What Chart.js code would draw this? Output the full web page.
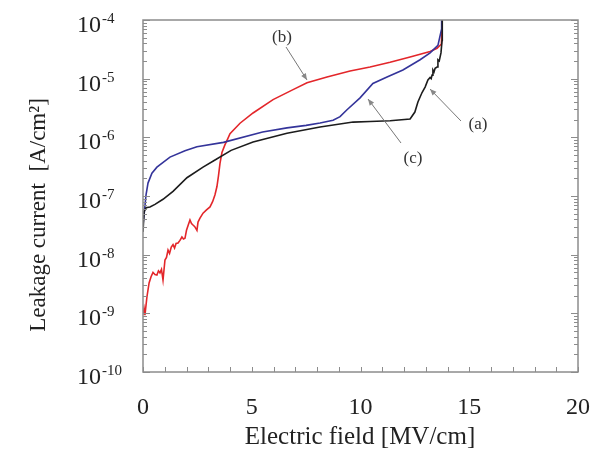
<!DOCTYPE html>
<html><head><meta charset="utf-8">
<script src="https://cdn.jsdelivr.net/npm/chart.js@4/dist/chart.umd.min.js"></script>
<style>html,body{margin:0;padding:0;background:#fff}#wrap{width:597px;height:450px}</style>
</head><body><div id="wrap"><canvas id="c" width="597" height="450"></canvas></div>
<script>
// ---- data ----
const xTicks = [0, 5, 10, 15, 20];
const yTickExps = [-4, -5, -6, -7, -8, -9, -10];

// (a) black
const fieldA = [0, 0.05, 0.14, 0.32, 0.55, 0.92, 1.38, 2.02, 2.76, 3.31, 4.05, 5.06, 6.62, 8.14, 9.66, 10.44, 11.36, 12.28, 12.5, 12.64, 12.83, 12.97, 13.1, 13.2, 13.25, 13.29, 13.33, 13.38, 13.43, 13.52, 13.56, 13.62, 13.7, 13.75, 13.76];
const currentA = [2.45e-8, 5.4e-8, 6.3e-8, 6.5e-8, 7.2e-8, 8.8e-8, 1.2e-7, 2.05e-7, 3.1e-7, 4.1e-7, 6.0e-7, 8.3e-7, 1.17e-6, 1.5e-6, 1.82e-6, 1.86e-6, 1.92e-6, 2.05e-6, 2.7e-6, 4.0e-6, 5.8e-6, 7.2e-6, 9.5e-6, 1.05e-5, 1.0e-5, 1.15e-5, 1.4e-5, 1.3e-5, 1.5e-5, 1.58e-5, 2.1e-5, 2.0e-5, 2.75e-5, 4.5e-5, 1.2e-4];

// (b) red
const fieldB = [0, 0.05, 0.09, 0.18, 0.28, 0.37, 0.46, 0.55, 0.64, 0.71, 0.78, 0.85, 0.92, 1.01, 1.08, 1.15, 1.22, 1.3, 1.38, 1.45, 1.52, 1.61, 1.7, 1.79, 1.86, 1.93, 2.0, 2.08, 2.16, 2.23, 2.3, 2.38, 2.48, 2.53, 2.62, 2.76, 2.92, 3.08, 3.2, 3.31, 3.4, 3.47, 3.54, 3.63, 3.77, 3.9, 4.0, 4.46, 5.06, 5.98, 6.9, 7.54, 8.46, 9.52, 10.44, 11.36, 12.28, 13.2, 13.52, 13.72, 13.76];
const currentB = [9.5e-10, 1.2e-9, 9.3e-10, 1.9e-9, 3.3e-9, 4.2e-9, 5.0e-9, 4.6e-9, 4.5e-9, 5.3e-9, 4.9e-9, 5.6e-9, 3.7e-9, 8.1e-9, 9.0e-9, 1.2e-8, 1.05e-8, 1.35e-8, 1.48e-8, 1.3e-8, 1.55e-8, 1.58e-8, 1.75e-8, 2.0e-8, 1.85e-8, 1.9e-8, 2.6e-8, 3.2e-8, 3.9e-8, 3.4e-8, 3.2e-8, 3.0e-8, 2.6e-8, 3.6e-8, 4.2e-8, 5.1e-8, 5.8e-8, 6.5e-8, 8.0e-8, 1.05e-7, 1.45e-7, 2.2e-7, 3.6e-7, 5.5e-7, 7.5e-7, 9.5e-7, 1.15e-6, 1.74e-6, 2.6e-6, 4.4e-6, 6.5e-6, 8.5e-6, 1.07e-5, 1.35e-5, 1.58e-5, 1.9e-5, 2.35e-5, 2.9e-5, 3.3e-5, 3.9e-5, 1.2e-4];

// (c) blue
const fieldC = [0, 0.05, 0.14, 0.23, 0.41, 0.64, 1.24, 1.93, 2.48, 3.7, 5.5, 6.62, 7.5, 8.14, 8.74, 9.06, 9.38, 9.98, 10.57, 11.22, 11.95, 12.74, 13.2, 13.56, 13.72, 13.73];
const currentC = [3.2e-8, 4.8e-8, 1.05e-7, 1.66e-7, 2.45e-7, 3.1e-7, 4.6e-7, 5.9e-7, 6.9e-7, 8.2e-7, 1.23e-6, 1.45e-6, 1.6e-6, 1.75e-6, 1.95e-6, 2.25e-6, 2.95e-6, 4.7e-6, 8.3e-6, 1.07e-5, 1.41e-5, 2.1e-5, 2.75e-5, 3.7e-5, 6.8e-5, 1.2e-4];

const toPts = (xs, ys) => xs.map((x, i) => ({x: x, y: ys[i]}));

const SERIF = '"Liberation Serif", "DejaVu Serif", serif';

const decor = {
  id: 'decor',
  afterDraw(chart) {
    const ctx = chart.ctx;
    const xs = chart.scales.x, ys = chart.scales.y;
    const a = chart.chartArea;
    ctx.save();
    // frame
    ctx.strokeStyle = '#8c8c8c';
    ctx.lineWidth = 1.5;
    ctx.strokeRect(a.left, a.top, a.right - a.left, a.bottom - a.top);
    // y ticks (log, both sides)
    ctx.lineWidth = 1;
    for (let e = -10; e <= -4; e++) {
      for (let m = 1; m <= 9; m++) {
        if (e === -4 && m > 1) break;
        const py = Math.round(ys.getPixelForValue(m * Math.pow(10, e))) + 0.5;
        const len = m === 1 ? 7 : 4;
        ctx.beginPath();
        ctx.moveTo(a.left, py); ctx.lineTo(a.left + len, py);
        ctx.moveTo(a.right, py); ctx.lineTo(a.right - len, py);
        ctx.stroke();
      }
    }
    // x ticks, every 1 unit, bottom
    for (let v = 0; v <= 20; v++) {
      const px = Math.round(xs.getPixelForValue(v)) + 0.5;
      ctx.beginPath();
      ctx.moveTo(px, a.bottom); ctx.lineTo(px, a.bottom - 5);
      ctx.stroke();
    }
    // x tick labels
    ctx.fillStyle = '#222';
    ctx.font = '24px ' + SERIF;
    ctx.textAlign = 'center';
    ctx.textBaseline = 'alphabetic';
    xTicks.forEach(v => ctx.fillText(String(v), xs.getPixelForValue(v), 414));
    // y tick labels 10^e
    yTickExps.forEach(e => {
      const py = ys.getPixelForValue(Math.pow(10, e));
      ctx.textAlign = 'left';
      ctx.font = '24px ' + SERIF;
      ctx.fillText('10', 77, py + 12);
      const w = ctx.measureText('10').width;
      ctx.font = '15px ' + SERIF;
      ctx.fillText(String(e), 77 + w + 1, py + 3);
    });
    // axis titles
    ctx.font = '25px ' + SERIF;
    ctx.textAlign = 'center';
    ctx.fillText('Electric field [MV/cm]', 360, 444);
    ctx.save();
    ctx.translate(45, 215);
    ctx.rotate(-Math.PI / 2);
    ctx.font = '23px ' + SERIF;
    ctx.fillText('Leakage current  [A/cm\u00B2]', 0, 0);
    ctx.restore();
    // annotations
    const note = (t, x, y) => { ctx.font = '17px ' + SERIF; ctx.fillStyle = '#333'; ctx.textAlign = 'center'; ctx.fillText(t, x, y); };
    const arrow = (x1, y1, x2, y2) => {
      ctx.strokeStyle = '#777'; ctx.lineWidth = 1;
      ctx.beginPath(); ctx.moveTo(x1, y1); ctx.lineTo(x2, y2); ctx.stroke();
      const ang = Math.atan2(y2 - y1, x2 - x1), L = 7, s = 0.4;
      ctx.beginPath();
      ctx.moveTo(x2, y2);
      ctx.lineTo(x2 - L * Math.cos(ang - s), y2 - L * Math.sin(ang - s));
      ctx.lineTo(x2 - L * Math.cos(ang + s), y2 - L * Math.sin(ang + s));
      ctx.closePath();
      ctx.fillStyle = '#888'; ctx.fill();
    };
    note('(b)', 282, 42);
    arrow(286, 47, 307, 80);
    note('(a)', 478, 129);
    arrow(461, 121, 430, 89);
    note('(c)', 413, 163);
    arrow(401, 143, 368, 99);
    ctx.restore();
  }
};

new Chart(document.getElementById('c'), {
  type: 'line',
  data: {
    datasets: [
      {label: '(a)', data: toPts(fieldA, currentA), borderColor: '#1c1c1c', borderWidth: 1.6},
      {label: '(c)', data: toPts(fieldC, currentC), borderColor: '#34349a', borderWidth: 1.6},
      {label: '(b)', data: toPts(fieldB, currentB), borderColor: '#e3262a', borderWidth: 1.6}
    ]
  },
  options: {
    responsive: false,
    animation: false,
    layout: {padding: {left: 143, right: 19, top: 20, bottom: 78}},
    elements: {point: {radius: 0}, line: {tension: 0}},
    plugins: {legend: {display: false}, tooltip: {enabled: false}},
    scales: {
      x: {type: 'linear', display: false, min: 0, max: 20},
      y: {type: 'logarithmic', display: false, min: 1e-10, max: 1e-4}
    }
  },
  plugins: [decor]
});
</script>
</body></html>
